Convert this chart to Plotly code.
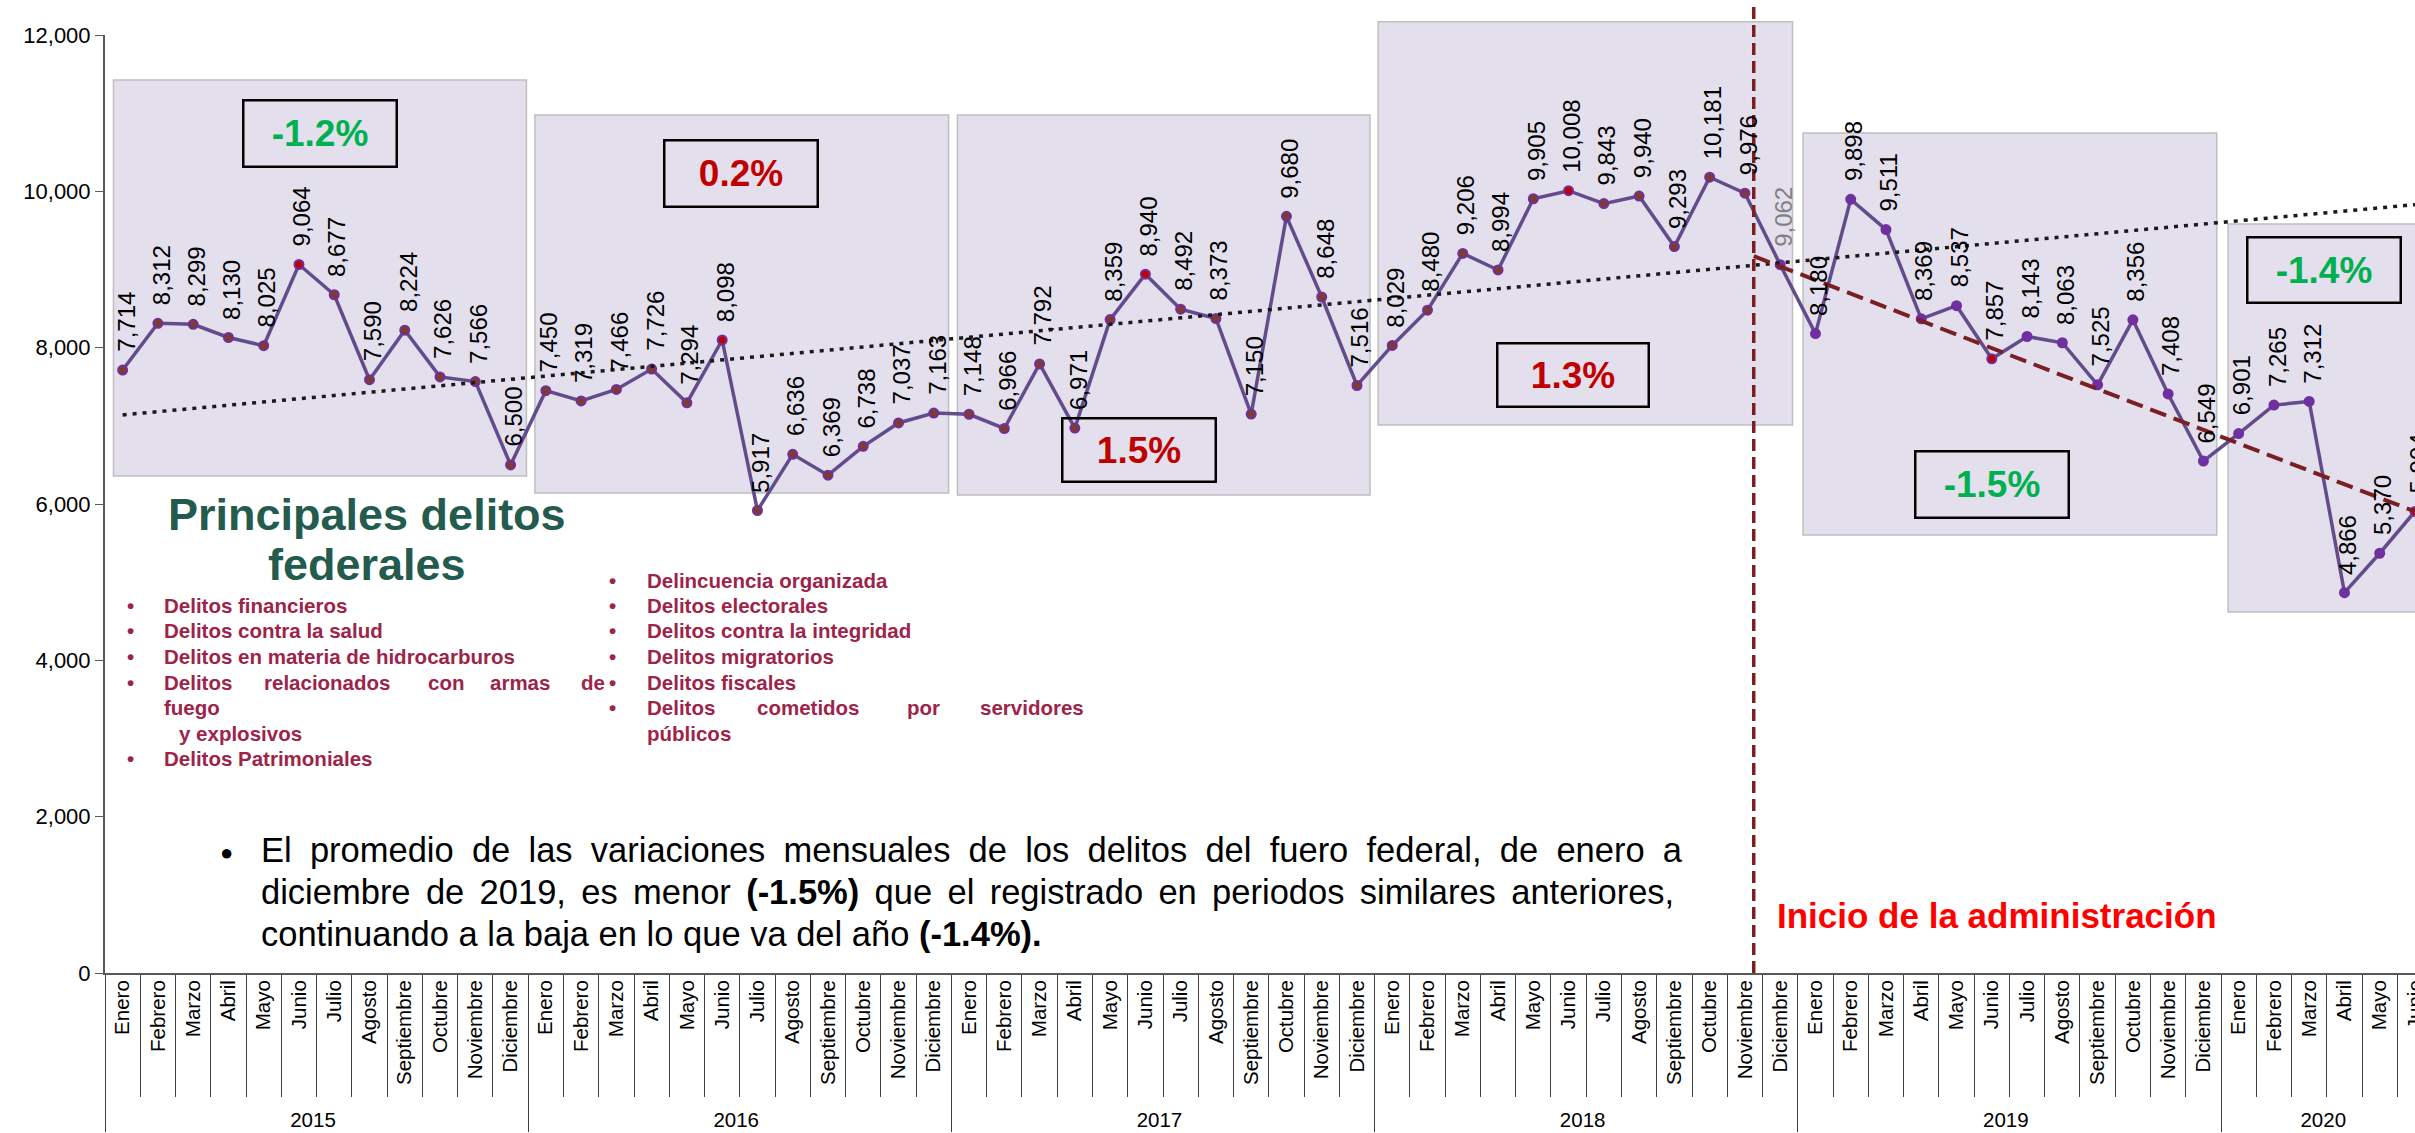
import plotly.graph_objects as go


# ==========================================================
# Data
# ==========================================================

years = ["2015", "2016", "2017", "2018", "2019", "2020"]
months = ["Enero", "Febrero", "Marzo", "Abril", "Mayo", "Junio", "Julio",
          "Agosto", "Septiembre", "Octubre", "Noviembre", "Diciembre"]
months_per_year = [12, 12, 12, 12, 12, 6]

delitos_2015 = [7714, 8312, 8299, 8130, 8025, 9064, 8677, 7590, 8224, 7626, 7566, 6500]
delitos_2016 = [7450, 7319, 7466, 7726, 7294, 8098, 5917, 6636, 6369, 6738, 7037, 7163]
delitos_2017 = [7148, 6966, 7792, 6971, 8359, 8940, 8492, 8373, 7150, 9680, 8648, 7516]
delitos_2018 = [8029, 8480, 9206, 8994, 9905, 10008, 9843, 9940, 9293, 10181, 9976, 9062]
delitos_2019 = [8180, 9898, 9511, 8369, 8537, 7857, 8143, 8063, 7525, 8356, 7408, 6549]
delitos_2020 = [6901, 7265, 7312, 4866, 5370, 5904]

# trend lines (start value, end value)
trend_total = [7140, 9830]
trend_admin = [9170, 5904]

variacion = ["-1.2%", "0.2%", "1.5%", "1.3%", "-1.5%", "-1.4%"]

delitos_izq = ["Delitos financieros", "Delitos contra la salud",
               "Delitos en materia de hidrocarburos"]
delitos_der = ["Delincuencia organizada", "Delitos electorales",
               "Delitos contra la integridad", "Delitos migratorios",
               "Delitos fiscales"]

delitos = delitos_2015 + delitos_2016 + delitos_2017 + delitos_2018 + delitos_2019 + delitos_2020

x_year, x_month = [], []
for y, n in zip(years, months_per_year):
    x_year += [y] * n
    x_month += months[:n]


# ==========================================================
# Helpers (reference pixel -> paper)
# ==========================================================

FONT = "Liberation Sans, Arial, sans-serif"
W, H = 2415, 1133
L, R, T, B = 105, 2415, 35, 973


def px(x):
    return (x - L) / (R - L)


def py(y):
    return (B - y) / (B - T)


# ==========================================================
# Figure
# ==========================================================

marker_colors = []
for i, m in enumerate(x_month):
    if m == "Junio":
        marker_colors.append("#C00000")
    elif i < 47:
        marker_colors.append("#7E3B2E")
    else:
        marker_colors.append("#7030A0")

fig = go.Figure()

fig.add_trace(
    go.Scatter(
        x=[x_year, x_month],
        y=delitos,
        mode="lines+markers",
        line=dict(color="#634C8C", width=3.5),
        marker=dict(size=9, color=marker_colors, line=dict(color="#7030A0", width=2)),
        showlegend=False
    )
)

shapes = []

# shaded year boxes (x index range, y value range)
boxes = [
    (-0.26, 11.45, 6358, 11424),
    (11.69, 23.42, 6140, 10976),
    (23.67, 35.37, 6115, 10976),
    (35.60, 47.35, 7010, 12170),
    (47.65, 59.38, 5603, 10745),
    (59.70, 66.00, 4618, 9582),
]
for x0, x1, y0, y1 in boxes:
    shapes.append(dict(
        type="rect", xref="x", yref="paper", layer="below",
        x0=x0, x1=x1, y0=y0 / 12000, y1=y1 / 12000,
        fillcolor="#E4DFEC", line=dict(color="#BFBFBF", width=1.5)
    ))

# trend lines
shapes.append(dict(
    type="line", xref="x", yref="y", x0=0, x1=65,
    y0=trend_total[0], y1=trend_total[1],
    line=dict(color="#1A1A1A", width=3.5, dash="4px,6px")
))
shapes.append(dict(
    type="line", xref="x", yref="y", x0=46.25, x1=65,
    y0=trend_admin[0], y1=trend_admin[1],
    line=dict(color="#7A1F22", width=4, dash="17px,8px")
))

# start of administration
shapes.append(dict(
    type="line", xref="x", yref="paper", x0=46.25, x1=46.25, y0=0, y1=py(7),
    line=dict(color="#7A1F22", width=3.5, dash="12px,6px")
))

annotations = []

# data labels
for i, v in enumerate(delitos):
    annotations.append(dict(
        x=i, y=v, xref="x", yref="y", text=f"{v:,}", showarrow=False,
        textangle=-90, xanchor="center", yanchor="bottom", yshift=16, xshift=3,
        font=dict(family=FONT, size=24, color="#808080" if i == 47 else "#000000")
    ))

# yearly variation boxes
pct_pos = [
    (5.6, 10740, 156, 69),
    (17.53, 10228, 156, 69),
    (28.82, 6690, 156, 66),
    (41.12, 7650, 154, 66),
    (53.0, 6249, 156, 69),
    (62.42, 8993, 156, 68),
]
for txt, (x, y, w, h) in zip(variacion, pct_pos):
    annotations.append(dict(
        x=x, y=y, xref="x", yref="y", text=f"<b>{txt}</b>", showarrow=False,
        width=w - 5, height=h - 5, borderpad=0, borderwidth=2.5, bordercolor="#000000",
        font=dict(family=FONT, size=37, color="#00B050" if txt.startswith("-") else "#C00000")
    ))

# title block
for txt, y in [("Principales delitos", 514), ("federales", 564)]:
    annotations.append(dict(
        x=px(367), y=py(y), xref="paper", yref="paper", text=f"<b>{txt}</b>",
        showarrow=False, xanchor="center", yanchor="middle",
        font=dict(family=FONT, size=45, color="#235B4E")
    ))

LIST_COLOR = "#9D2449"
LIST_SIZE = 20.5


def list_text(x, y, txt, anchor="left"):
    annotations.append(dict(
        x=px(x), y=py(y), xref="paper", yref="paper", text=f"<b>{txt}</b>",
        showarrow=False, xanchor=anchor, yanchor="middle",
        font=dict(family=FONT, size=LIST_SIZE, color=LIST_COLOR)
    ))


left_rows = [605, 630, 656, 682, 707, 733, 758]
right_rows = [580, 605, 630, 656, 682, 707, 733]

for txt, y in zip(delitos_izq, left_rows):
    list_text(130, y, "•", "center")
    list_text(162, y, txt)
list_text(130, left_rows[3], "•", "center")
for word, x in zip(["Delitos", "relacionados", "con", "armas", "de"], [162, 262, 426, 488, 579]):
    list_text(x, left_rows[3], word)
list_text(162, left_rows[4], "fuego")
list_text(177, left_rows[5], "y explosivos")
list_text(130, left_rows[6], "•", "center")
list_text(162, left_rows[6], "Delitos Patrimoniales")

for txt, y in zip(delitos_der, right_rows):
    list_text(612, y, "•", "center")
    list_text(645, y, txt)
list_text(612, right_rows[5], "•", "center")
for word, x in zip(["Delitos", "cometidos", "por", "servidores"], [645, 755, 905, 978]):
    list_text(x, right_rows[5], word)
list_text(645, right_rows[6], "públicos")

# comment paragraph (first two lines justified with extra narrow spaces)
parrafo = [
    "El promedio de las variaciones mensuales de los delitos del fuero federal, de enero a",
    "diciembre de 2019, es menor <b>(-1.5%)</b> que el registrado en periodos similares anteriores,",
    "continuando a la baja en lo que va del año <b>(-1.4%).</b>",
]
relleno = ["\u2005", "\u2006", ""]
annotations.append(dict(
    x=px(226), y=py(852), xref="paper", yref="paper", text="●", showarrow=False,
    xanchor="center", yanchor="middle", font=dict(family=FONT, size=22, color="#000000")
))
for txt, extra, y in zip(parrafo, relleno, [850, 892, 934]):
    annotations.append(dict(
        x=px(259), y=py(y), xref="paper", yref="paper", text=txt.replace(" ", " " + extra),
        showarrow=False, xanchor="left", yanchor="middle",
        font=dict(family=FONT, size=34.5, color="#000000")
    ))

annotations.append(dict(
    x=px(1775), y=py(915), xref="paper", yref="paper",
    text="<b>Inicio de la administración</b>", showarrow=False,
    xanchor="left", yanchor="middle", font=dict(family=FONT, size=35, color="#FF0000")
))

fig.update_layout(
    width=W,
    height=H,
    margin=dict(l=L, r=W - R, t=T, b=H - B),
    paper_bgcolor="white",
    plot_bgcolor="white",
    showlegend=False,
    shapes=shapes,
    annotations=annotations,
    xaxis=dict(
        type="multicategory",
        range=[-0.5, 65.0],
        autorange=False,
        tickangle=-90,
        ticks="outside",
        tickson="boundaries",
        ticklen=122,
        tickwidth=1.3,
        tickcolor="#3F3F3F",
        ticklabelstandoff=-3,
        showdividers=True,
        dividercolor="#3F3F3F",
        dividerwidth=1.3,
        showline=True,
        linecolor="#595959",
        linewidth=2,
        showgrid=False,
        zeroline=False,
        tickfont=dict(family=FONT, size=20.5, color="#000000")
    ),
    yaxis=dict(
        range=[0, 12000],
        autorange=False,
        dtick=2000,
        tickformat=",",
        ticks="outside",
        ticklen=8,
        tickcolor="#595959",
        showline=True,
        linecolor="#595959",
        linewidth=2,
        showgrid=False,
        zeroline=False,
        tickfont=dict(family=FONT, size=22, color="#000000")
    )
)

fig.write_html(
    "out.html",
    config={"displayModeBar": False},
    post_script="document.body.style.margin='0';"
)
